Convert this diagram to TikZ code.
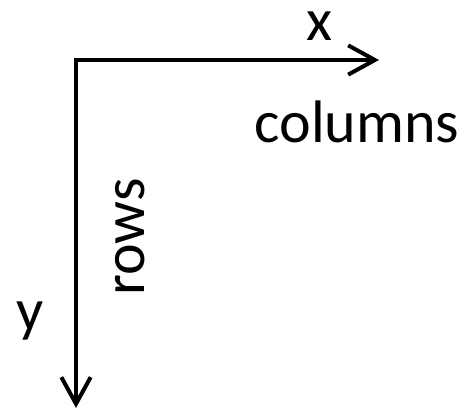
\documentclass[tikz,border=0pt]{standalone}
\usepackage{fontspec}
\setmainfont{Carlito}
\usetikzlibrary{arrows.meta}
\tikzset{
  axis/.style={line width=3pt,-{Straight Barb[length=20pt,width=22pt,line width=3pt]}},
  lbl/.style={inner sep=0pt,anchor=base,font=\fontsize{45pt}{54pt}\selectfont}
}
\begin{document}
\begin{tikzpicture}[x=0.75pt,y=-0.75pt]
\useasboundingbox (0,0) rectangle (472,409);
\coordinate (o) at (76,60);
\coordinate (xe) at (379,60);
\coordinate (ye) at (76,408);
\draw[axis] (o) -- (xe);
\draw[axis] (o) -- (ye);
\draw[line width=3pt] ([xshift=-1.5pt]o) -- (o);
\node[lbl] (xl) at (319,41) {x};
\node[lbl] (cl) at (357,143) {columns};
\node[lbl,rotate=90] (rl) at (144,237) {rows};
\node[lbl] (yl) at (30,331) {y};
\end{tikzpicture}
\end{document}
